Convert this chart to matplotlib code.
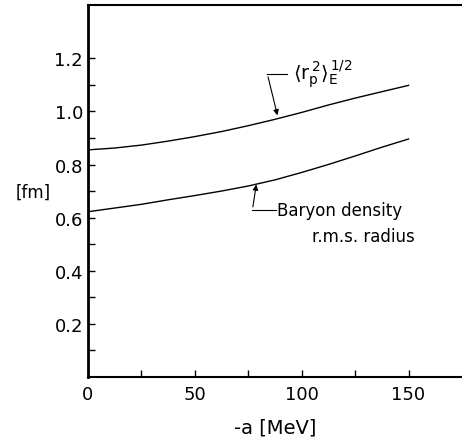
import matplotlib
matplotlib.use("Agg")
import matplotlib.pyplot as plt

# data
alpha_mev = [0, 12.5, 25, 37.5, 50, 62.5, 75, 87.5, 100, 112.5, 125, 137.5, 150]
r_p_charge = [0.855, 0.862, 0.873, 0.888, 0.905, 0.924, 0.946, 0.970, 0.996, 1.024, 1.050, 1.074, 1.098]
baryon_rms = [0.622, 0.636, 0.650, 0.667, 0.683, 0.700, 0.719, 0.742, 0.770, 0.800, 0.832, 0.865, 0.896]
yticks = [0.2, 0.4, 0.6, 0.8, 1.0, 1.2]
yticklabels = ["0.2", "0.4", "0.6", "0.8", "1.0", "1.2"]
xticks = [0, 50, 100, 150]
xticklabels = ["0", "50", "100", "150"]

fig = plt.figure(figsize=(4.62, 4.39), dpi=100)
ax = fig.add_axes([0.190, 0.139, 0.81, 0.847])

ax.plot(alpha_mev, r_p_charge, color="black", lw=1.0)
ax.plot(alpha_mev, baryon_rms, color="black", lw=1.0)

ax.set_xlim(0, 175)
ax.set_ylim(0, 1.4)
ax.set_xticks(xticks)
ax.set_xticklabels(xticklabels)
ax.set_xticks([25, 75, 125], minor=True)
ax.set_yticks(yticks)
ax.set_yticklabels(yticklabels)
ax.set_yticks([0.1, 0.3, 0.5, 0.7, 0.9, 1.1], minor=True)
ax.tick_params(which="both", direction="in", length=5, width=1.0, labelsize=13)
ax.tick_params(axis="x", pad=6)
ax.spines["right"].set_visible(False)
ax.spines["left"].set_linewidth(2.0)
ax.spines["bottom"].set_linewidth(1.5)
ax.spines["top"].set_linewidth(1.5)

ax.set_xlabel("-a [MeV]", fontsize=14, labelpad=10)
fig.text(0.072, 0.56, "[fm]", fontsize=12, ha="center", va="center")

# annotations
ax.annotate("", xy=(89, 0.975), xytext=(84, 1.14),
            arrowprops=dict(arrowstyle="-|>", color="black", lw=0.8, mutation_scale=8))
ax.plot([84, 93], [1.14, 1.14], color="black", lw=0.8)
ax.text(96, 1.14, r"$\langle \mathrm{r}_\mathrm{p}^{\,2}\rangle_\mathrm{E}^{\,1/2}$",
        fontsize=14, va="center", ha="left")

ax.annotate("", xy=(79, 0.735), xytext=(77, 0.63),
            arrowprops=dict(arrowstyle="-|>", color="black", lw=0.8, mutation_scale=8))
ax.plot([77, 88], [0.63, 0.63], color="black", lw=0.8)
ax.text(88.5, 0.63, "Baryon density", fontsize=12, va="center", ha="left")
ax.text(153, 0.53, "r.m.s. radius", fontsize=12, va="center", ha="right")

fig.savefig("out.png", dpi=100)
